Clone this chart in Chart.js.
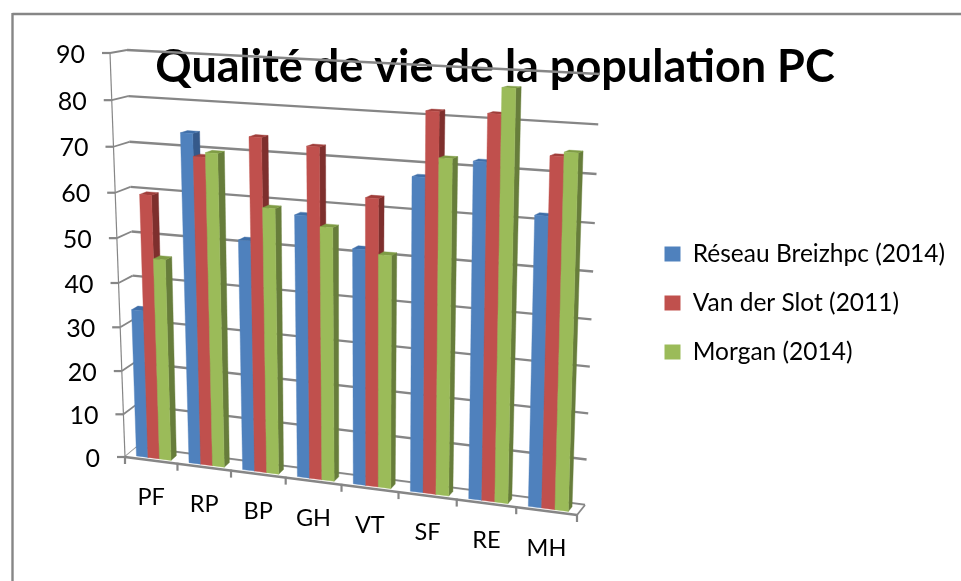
<!DOCTYPE html>
<html><head><meta charset="utf-8">
<style>html,body{margin:0;padding:0;background:#fff}#w{width:961px;height:581px}</style>
<script src="https://cdn.jsdelivr.net/npm/chart.js@4"></script>
</head><body><div id="w"><canvas id="c"></canvas></div>
<script>
const categories = ['PF','RP','BP','GH','VT','SF','RE','MH'];
const reseau = [33.8,73.7,51.5,57.9,51.7,67.8,71.8,61.7];
const vanDerSlot = [59.7,68.8,73.8,72.6,62.7,81.4,81.6,73.9];
const morgan = [45.7,69.8,58.9,55.8,50.9,72,86.9,74.8];
const yTicks = {min:0,max:90,step:10};
const titleText = 'Qualité de vie de la population PC';

// 3D view: plot box corners on screen
const FRONT = [[125,457],[577,515],[589,77],[110,53]];
const BACK  = [[137,447],[585,505],[600,74],[127,50]];
const DEPTH = [0.22,0.68];
const GRID='#868686', FONT='Lato, Carlito, sans-serif';
const SHADES = {
 '#4F81BD':{side:'#35598a',top:'#3f6ea8'},
 '#C0504D':{side:'#7e2f2d',top:'#a03e3b'},
 '#9BBB59':{side:'#677d3b',top:'#7f9c45'}
};
function homography(q){
 const [x0,y0]=q[0],[x1,y1]=q[1],[x2,y2]=q[2],[x3,y3]=q[3];
 const dx1=x1-x2,dx2=x3-x2,dx3=x0-x1+x2-x3,dy1=y1-y2,dy2=y3-y2,dy3=y0-y1+y2-y3;
 const den=dx1*dy2-dx2*dy1,g=(dx3*dy2-dx2*dy3)/den,h=(dx1*dy3-dx3*dy1)/den;
 const a=x1-x0+g*x1,b=x3-x0+h*x3,d=y1-y0+g*y1,e=y3-y0+h*y3;
 return (u,v)=>{const w=g*u+h*v+1;return [(a*u+b*v+x0)/w,(d*u+e*v+y0)/w];};
}
const HF=homography(FRONT),HB=homography(BACK);
function proj(u,v,d){const f=HF(u,v),b=HB(u,v);return [f[0]+(b[0]-f[0])*d,f[1]+(b[1]-f[1])*d];}
function poly(ctx,pts,fill){ctx.beginPath();pts.forEach((p,i)=>i?ctx.lineTo(p[0],p[1]):ctx.moveTo(p[0],p[1]));ctx.closePath();ctx.fillStyle=fill;ctx.fill();ctx.strokeStyle=fill;ctx.lineWidth=0.4;ctx.stroke();}
function seg(ctx,a,b,w,c){ctx.beginPath();ctx.moveTo(a[0],a[1]);ctx.lineTo(b[0],b[1]);ctx.lineWidth=w;ctx.strokeStyle=c||GRID;ctx.stroke();}

const view3d = {
 id:'view3d',
 beforeDraw(chart){
  const ctx=chart.ctx;
  ctx.save();
  seg(ctx,[12.5,14],[961,14],2.4);
  seg(ctx,[12.5,13],[12.5,581],2.4);
  ctx.restore();
 },
 beforeDatasetDraw(){return false;},
 beforeDatasetsDraw(chart){
  const ctx=chart.ctx,a=chart.chartArea,ys=chart.scales.y,xs=chart.scales.x;
  const U=px=>(px-a.left)/(a.right-a.left), V=py=>(a.bottom-py)/(a.bottom-a.top);
  ctx.save();
  // walls and gridlines
  ys.ticks.forEach(t=>{
   const v=V(ys.getPixelForValue(t.value));
   seg(ctx,proj(0,v,1),proj(1,v,1),2.4);
   seg(ctx,proj(0,v,0),proj(0,v,1),1.8);
   const p=proj(0,v,0);
   seg(ctx,[p[0]-8,p[1]],p,2.2);
   ctx.font='25px '+FONT;ctx.fillStyle='#000';ctx.textAlign='right';ctx.textBaseline='middle';
   ctx.fillText(String(t.value),p[0]-25,p[1]+1.5);
  });
  seg(ctx,proj(0,0,0),proj(0,1,0),1.2);
  // floor
  poly(ctx,[proj(0,0,0),proj(1,0,0),proj(1,0,.92),proj(0,0,.92)],'#fff');
  seg(ctx,proj(0,0,0),proj(1,0,0),2.4);
  seg(ctx,proj(1,0,0),proj(1,0,1),1.8);
  // category ticks and labels
  const n=categories.length;
  for(let i=0;i<=n;i++){const p=proj(i/n,0,0);seg(ctx,[p[0],p[1]-1],[p[0],p[1]+7],2.2);}
  categories.forEach((c,i)=>{
   const u=U(xs.getPixelForValue(i)),p=proj(u,0,0);
   ctx.font='23.5px '+FONT;ctx.fillStyle='#000';ctx.textAlign='center';ctx.textBaseline='middle';
   ctx.fillText(c,p[0],p[1]+37);
  });
  // bars
  const [d0,d1]=DEPTH;
  for(let i=0;i<n;i++){
   chart.data.datasets.forEach((ds,k)=>{
    const el=chart.getDatasetMeta(k).data[i];
    const l=U(el.x-el.width/2),r=U(el.x+el.width/2),t=V(el.y),b=V(el.base);
    const col=ds.backgroundColor,sh=SHADES[col];
    poly(ctx,[proj(r,b,d0),proj(r,b,d1),proj(r,t,d1),proj(r,t,d0)],sh.side);
    poly(ctx,[proj(l,t,d0),proj(r,t,d0),proj(r,t,d1),proj(l,t,d1)],sh.top);
    poly(ctx,[proj(l,b,d0),proj(r,b,d0),proj(r,t,d0),proj(l,t,d0)],col);
   });
  }
  ctx.restore();
 }
};

new Chart(document.getElementById('c'),{
 type:'bar',
 data:{labels:categories,datasets:[
  {label:'Réseau Breizhpc (2014)',data:reseau,backgroundColor:'#4F81BD'},
  {label:'Van der Slot (2011)',data:vanDerSlot,backgroundColor:'#C0504D'},
  {label:'Morgan (2014)',data:morgan,backgroundColor:'#9BBB59'}
 ]},
 options:{
  responsive:true,maintainAspectRatio:false,animation:false,
  layout:{padding:{left:42,right:13,top:25,bottom:0}},
  datasets:{bar:{categoryPercentage:0.66,barPercentage:1}},
  scales:{
   x:{display:true,grid:{display:false},border:{display:false},ticks:{display:false}},
   y:{min:yTicks.min,max:yTicks.max,grid:{display:false},border:{display:false},
      ticks:{display:false,stepSize:yTicks.step}}
  },
  plugins:{
   tooltip:{enabled:false},
   title:{display:true,text:titleText,color:'#000',
     font:{family:FONT,size:45,weight:'bold'},padding:{top:15,bottom:-69}},
   legend:{position:'right',maxWidth:308,
     labels:{boxWidth:16,boxHeight:15,padding:24.5,color:'#000',font:{family:FONT,size:24.5}}}
  }
 },
 plugins:[view3d]
});
</script></body></html>
